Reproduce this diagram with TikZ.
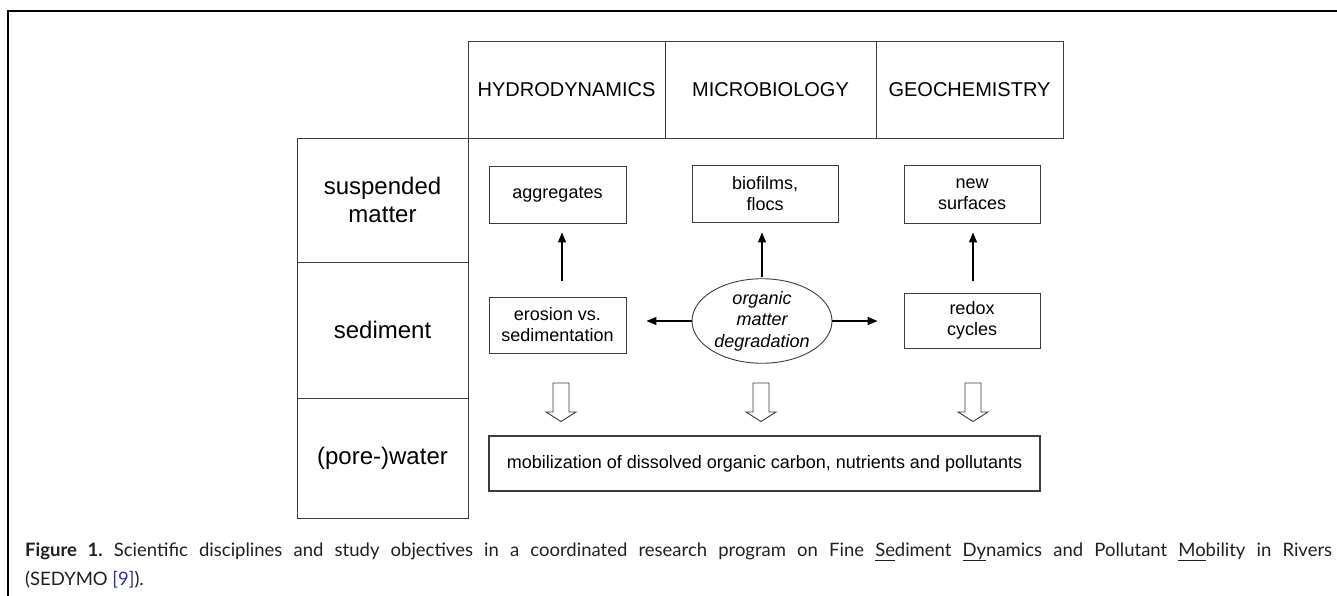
\documentclass[tikz,border=0pt]{standalone}
\usepackage{fontspec}
\setmainfont{Liberation Sans}
\newfontfamily\capfont{Lato}
\usetikzlibrary{arrows.meta,shapes.geometric}
\definecolor{capblue}{RGB}{46,49,146}
\definecolor{captext}{RGB}{35,31,32}
\definecolor{boxline}{RGB}{60,60,60}
\newcommand\capul[1]{\underline{#1\vphantom{y}}}
\frenchspacing
\begin{document}
\begin{tikzpicture}[x=1pt,y=-1pt,
  cell/.style={draw=boxline, line width=0.9pt, inner sep=0pt, align=center, rectangle},
  headcell/.style={cell, minimum height=97pt, font=\fontsize{20}{24}\selectfont},
  rowcell/.style={cell, minimum width=171pt, font=\fontsize{24}{28}\selectfont},
  itembox/.style={cell, font=\fontsize{18}{21}\selectfont},
  arr/.style={line width=1.2pt, -{Triangle[length=10pt,width=8pt]}},
  hollow/.style={draw=boxline, line width=0.9pt, fill=white}
]
\useasboundingbox (0,0) rectangle (1337,596);
% outer frame
\draw[line width=1.2pt] (8,596) -- (8,11) -- (1337,11);

% header cells
\node[headcell, minimum width=197pt] (hyd) at (566.5,89.5) {HYDRODYNAMICS};
\node[headcell, minimum width=211pt] (mic) at (770.5,89.5) {MICROBIOLOGY};
\node[headcell, minimum width=187pt] (geo) at (969.5,89.5) {GEOCHEMISTRY};

% row label cells
\node[rowcell, minimum height=124pt] (sm) at (382.5,200) {suspended\\matter};
\node[rowcell, minimum height=136pt] (sed) at (382.5,330) {sediment};
\node[rowcell, minimum height=120pt] (pw) at (382.5,458) {(pore-)water};

% content boxes
\node[itembox, minimum width=137pt, minimum height=57pt] (agg) at (557.5,194.5) {aggregates};
\node[itembox, minimum width=146pt, minimum height=57pt] (bio) at (765,193.5) {biofilms,\\flocs};
\node[itembox, minimum width=136pt, minimum height=58pt] (ns) at (972,194) {new\\surfaces};
\node[itembox, minimum width=137pt, minimum height=56pt] (ero) at (557.5,325) {erosion vs.\\sedimentation};
\node[itembox, minimum width=136pt, minimum height=55pt] (red) at (972,320.5) {redox\\cycles};
\node[draw=boxline, line width=0.9pt, ellipse, inner sep=0pt, minimum width=140pt, minimum height=84pt,
      align=center, font=\fontsize{18}{21.5}\selectfont\itshape] (omd) at (762,321) {organic\\matter\\degradation};
\node[cell, line width=1.3pt, minimum width=551pt, minimum height=55pt, font=\fontsize{18}{21}\selectfont] (mob) at (764.5,463.5)
  {mobilization of dissolved organic carbon, nutrients and pollutants};

% up arrows
\draw[arr, shorten <=16pt, shorten >=9pt] ([xshift=4.5pt]ero.north) -- ([xshift=4.5pt]agg.south);
\draw[arr, shorten <=1pt, shorten >=10pt] (omd.north) -- (omd.north |- bio.south);
\draw[arr, shorten <=12pt, shorten >=9pt] ([xshift=1pt]red.north) -- ([xshift=1pt]ns.south);

% horizontal arrows
\draw[arr, shorten >=20pt] (omd.west) -- (ero.east |- omd.west);
\draw[arr, shorten >=26pt] (omd.east) -- (red.west |- omd.east);

% hollow down arrows
\coordinate (h1) at (561,383);
\coordinate (h2) at (761,383);
\coordinate (h3) at (973,383);
\foreach \h in {h1,h2,h3}{
  \draw[hollow] (\h) ++(-8,0) -- ++(16,0) -- ++(0,29) -- ++(7,0) -- ++(-15,9.5) -- ++(-15,-9.5) -- ++(7,0) -- cycle;
}

% caption
\node[anchor=base west, inner sep=0pt, text=captext, font=\capfont\fontsize{18.5}{22}\selectfont] (cap1) at (25,556)
  {\makebox[1307pt][s]{\textbf{Figure 1.} Scientific disciplines and study objectives in a coordinated research program on Fine \capul{Se}diment \capul{Dy}namics and Pollutant \capul{Mo}bility in Rivers}};
\node[anchor=base west, inner sep=0pt, text=captext, font=\capfont\fontsize{18.5}{22}\selectfont] (cap2) at (25,585)
  {(SEDYMO {\color{capblue}[9]}).};
\end{tikzpicture}
\end{document}
